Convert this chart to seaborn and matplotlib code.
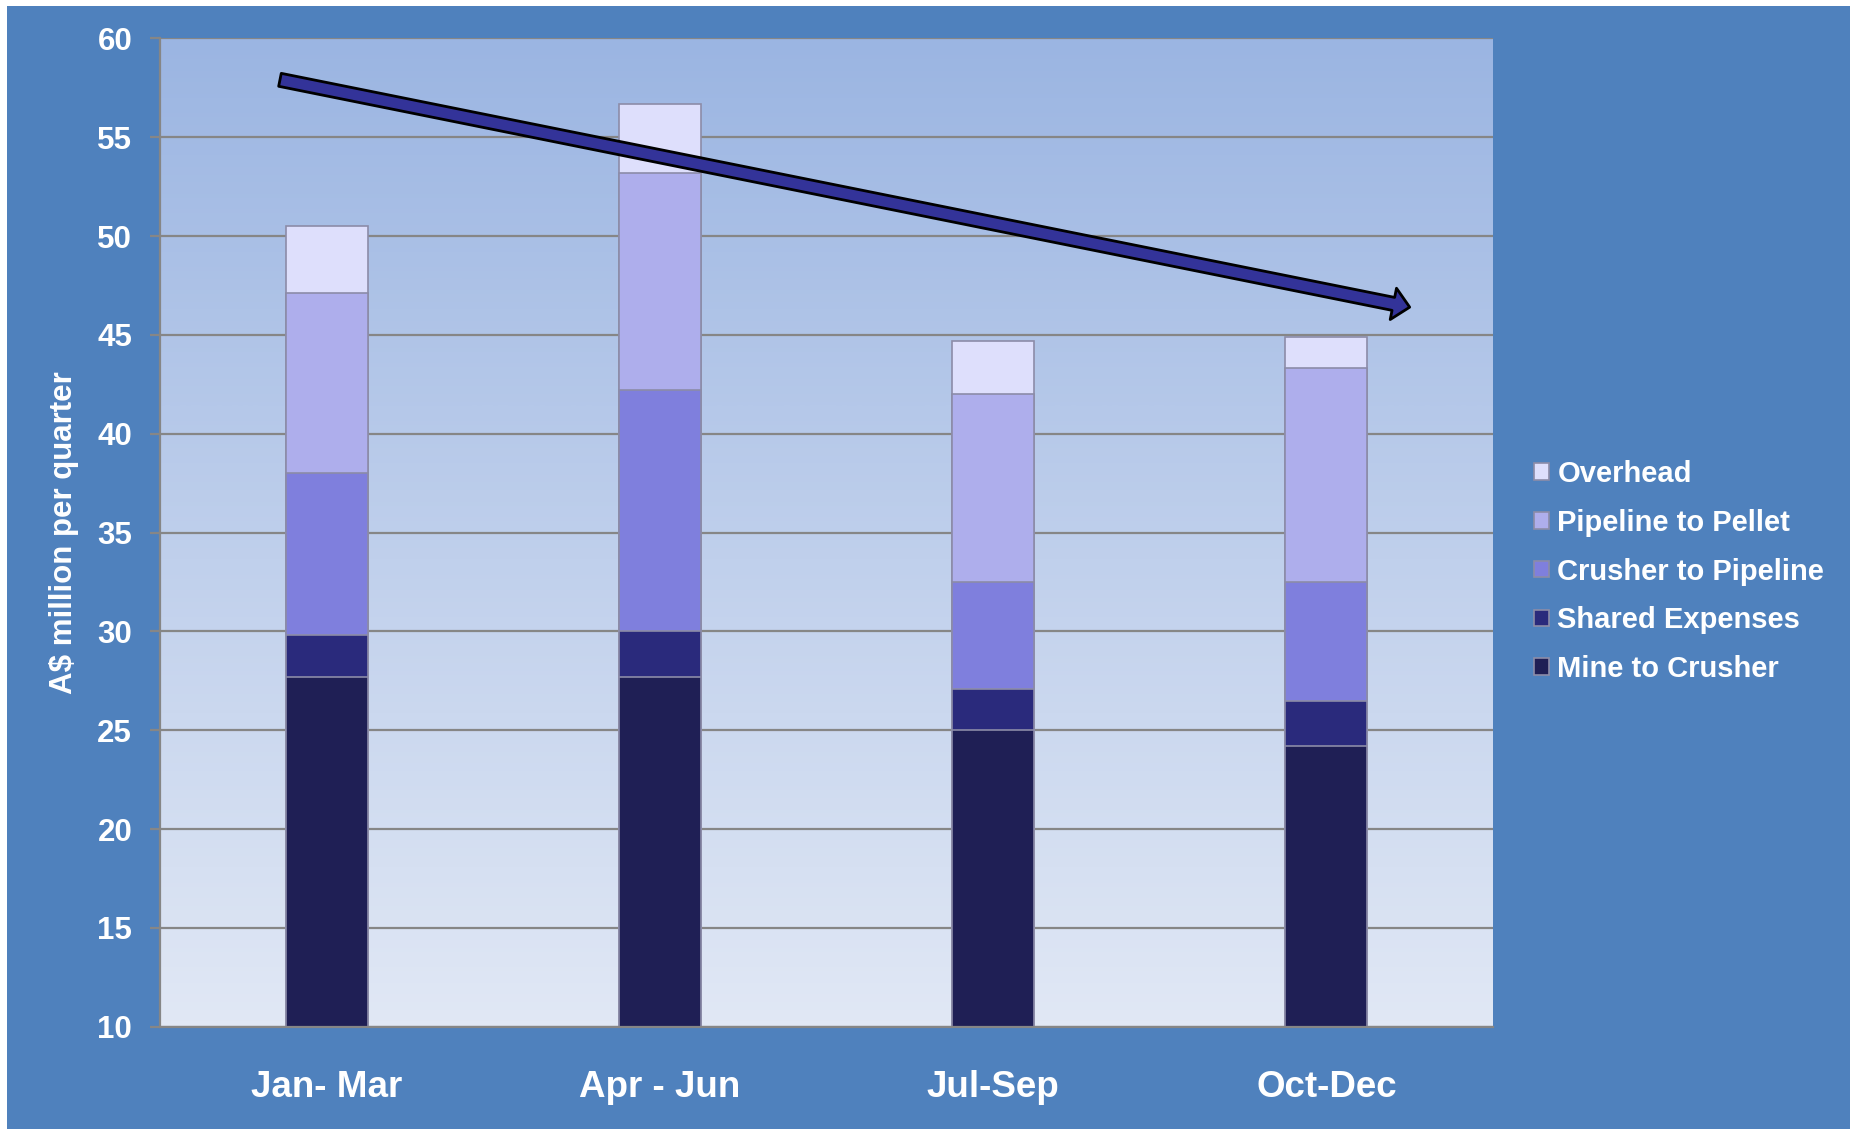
import numpy as np
import pandas as pd
import matplotlib
matplotlib.use("Agg")
import matplotlib.pyplot as plt
from matplotlib.patches import Rectangle
from matplotlib.colors import LinearSegmentedColormap
import seaborn as sns

# ---- data ----
quarters = ["Jan- Mar", "Apr - Jun", "Jul-Sep", "Oct-Dec"]
mine_to_crusher = [27.7, 27.7, 25.0, 24.2]
shared_expenses = [2.1, 2.3, 2.1, 2.3]
crusher_to_pipeline = [8.2, 12.2, 5.4, 6.0]
pipeline_to_pellet = [9.1, 11.0, 9.5, 10.8]
overhead = [3.4, 3.5, 2.7, 1.6]
series_names = ["Mine to Crusher", "Shared Expenses", "Crusher to Pipeline",
                "Pipeline to Pellet", "Overhead"]
y_ticks = [10, 15, 20, 25, 30, 35, 40, 45, 50, 55, 60]
trend_start = (-0.14, 57.9)
trend_end = (3.25, 46.4)

series_colors = ["#1F1F55", "#2A2A7C", "#7F7FDD", "#AEAEEC", "#DEDFFC"]

sns.set_theme(style="white")
plt.rcParams["font.family"] = ["Liberation Sans", "DejaVu Sans"]
plt.rcParams["font.weight"] = "bold"

fig = plt.figure(figsize=(18.5, 11.29), dpi=100)
fig.patch.set_facecolor("white")
fig.patches.append(Rectangle((7 / 1850, 0), 1 - 7 / 1850, 1 - 6 / 1129,
                             transform=fig.transFigure, facecolor="#4F81BD",
                             edgecolor="none", zorder=-10))

ax = fig.add_axes([160 / 1850, 1 - 1026.8 / 1129, 1333 / 1850, 988.5 / 1129])
ax.set_facecolor("none")

# gradient plot-area background
grad = np.linspace(0, 1, 256).reshape(-1, 1)
cmap = LinearSegmentedColormap.from_list("bg", ["#9BB5E2", "#E1E8F5"])
ax.imshow(grad, aspect="auto", cmap=cmap, extent=[0, 1, 0, 1],
          transform=ax.transAxes, zorder=0, interpolation="bicubic")

df = pd.DataFrame({"quarter": quarters,
                   "Mine to Crusher": mine_to_crusher,
                   "Shared Expenses": shared_expenses,
                   "Crusher to Pipeline": crusher_to_pipeline,
                   "Pipeline to Pellet": pipeline_to_pellet,
                   "Overhead": overhead})
cum = df[series_names].cumsum(axis=1)

# draw from tallest cumulative downwards so segments stack
for name, col in reversed(list(zip(series_names, series_colors))):
    sns.barplot(x=df["quarter"], y=cum[name], color=col, saturation=1,
                width=0.246, errorbar=None, label=name, ax=ax,
                edgecolor="#8C8CA8", linewidth=1.2, zorder=3)

ax.set_ylim(10, 60)
ax.set_xlim(-0.5, 3.5)
ax.set_yticks(y_ticks)
ax.yaxis.grid(True, color="#868686", linewidth=1.6, zorder=1)
ax.xaxis.grid(False)
ax.set_axisbelow(True)

for s in ["top", "right"]:
    ax.spines[s].set_visible(False)
for s in ["left", "bottom"]:
    ax.spines[s].set_color("#868686")
    ax.spines[s].set_linewidth(1.6)
    ax.spines[s].set_zorder(4)

ax.tick_params(axis="y", which="major", left=True, length=7, width=1.6,
               color="#868686", labelsize=22.5, labelcolor="white", pad=13)
ax.tick_params(axis="x", bottom=False, labelsize=26.5, labelcolor="white", pad=25)
for lab in ax.get_xticklabels() + ax.get_yticklabels():
    lab.set_fontweight("bold")

ax.set_xlabel("")
ax.set_ylabel("A$ million per quarter", fontsize=22.5, color="white",
              fontweight="bold", labelpad=13)

# trend arrow
ax.annotate("", xy=trend_end, xytext=trend_start,
            arrowprops=dict(arrowstyle="simple,head_length=1.2,head_width=2.3,tail_width=0.95",
                            mutation_scale=10, fc="#333399", ec="black", lw=2,
                            shrinkA=0, shrinkB=0), zorder=6)

leg = ax.legend(loc="center left", bbox_to_anchor=(1534 / 1850, 1 - 571.5 / 1129),
                bbox_transform=fig.transFigure, frameon=False, fontsize=21,
                handlelength=0.5, handleheight=0.5, handletextpad=0.3,
                labelspacing=0.71, borderpad=0, borderaxespad=0)
for t in leg.get_texts():
    t.set_color("white")
    t.set_fontweight("bold")

fig.savefig("out.png", dpi=100)
